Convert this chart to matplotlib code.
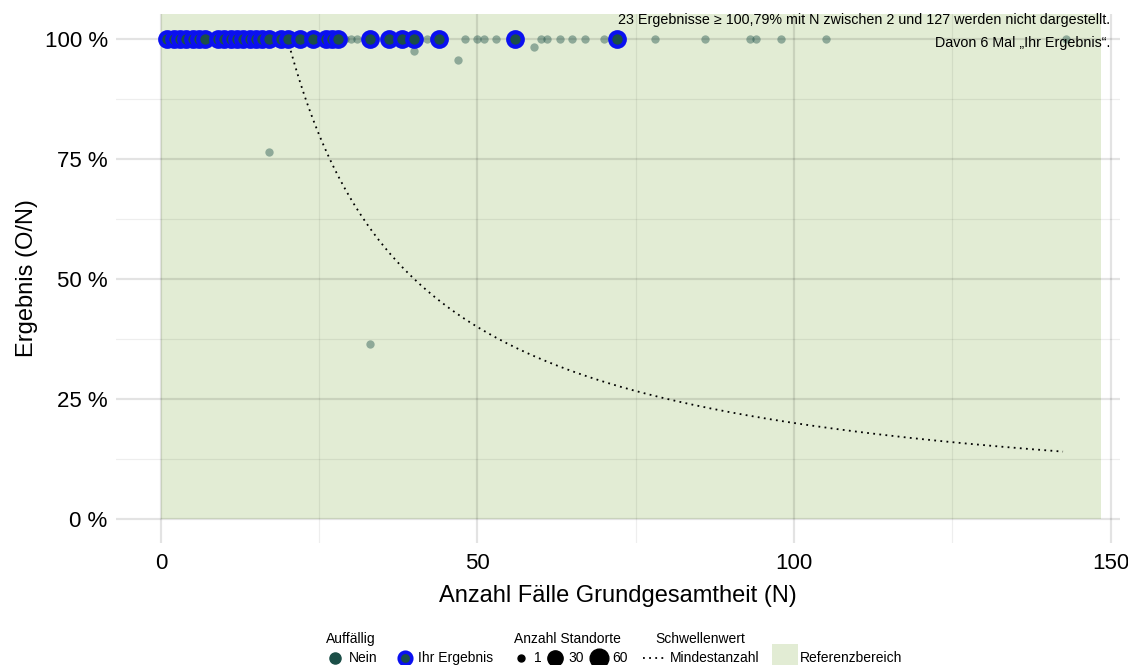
import matplotlib
matplotlib.use("Agg")
import matplotlib.pyplot as plt
from matplotlib.patches import Rectangle
import numpy as np

plt.rcParams['font.family'] = ['Liberation Sans', 'DejaVu Sans']

# ---------------- data ----------------
# "Ihr Ergebnis" points (all at 100 %)
ihr_N = [1, 2, 3, 4, 5, 6, 7, 9, 10, 11, 12, 13, 14, 15, 16, 17, 19, 20, 22, 24,
         26, 27, 28, 33, 36, 38, 40, 44, 56, 72]
ihr_val = [100] * len(ihr_N)

# other sites ("Nein")
other_N = [29, 30, 31, 42, 48, 50, 51, 53, 60, 61, 63, 65, 67, 70, 78, 86, 93,
           94, 98, 105, 143, 17, 33, 40, 47, 59]
other_val = [100, 100, 100, 100, 100, 100, 100, 100, 100, 100, 100, 100, 100, 100,
             100, 100, 100, 100, 100, 100, 100, 76.5, 36.4, 97.5, 95.7, 98.3]

# threshold (Mindestanzahl): O/N with O = 20
mindest_O = 20
curve_N_start, curve_N_end = 20, 142.5

# reference range
ref_x = (0, 148.5)
ref_y = (0, 105.5)

y_ticks = [0, 25, 50, 75, 100]
y_ticklabels = ["0 %", "25 %", "50 %", "75 %", "100 %"]
x_ticks = [0, 50, 100, 150]
x_ticklabels = ["0", "50", "100", "150"]

note_lines = ["23 Ergebnisse \u2265 100,79% mit N zwischen 2 und 127 werden nicht dargestellt.",
              "Davon 6 Mal \u201eIhr Ergebnis\u201c."]

# ---------------- colours ----------------
teal = "#1b4e47"
blue = "#0a10f0"
ref_green = "#e2ecd4"

fig = plt.figure(figsize=(11.28, 6.65), dpi=100)
ax = fig.add_axes([116 / 1128, 1 - 543 / 665, (1120 - 116) / 1128, (543 - 14) / 665])
ax.set_xlim(-7.1, 151.5)
ax.set_ylim(-5.0, 105.2)

for s in ax.spines.values():
    s.set_visible(False)

# reference rect
ax.add_patch(Rectangle((ref_x[0], ref_y[0]), ref_x[1] - ref_x[0], ref_y[1] - ref_y[0],
                       facecolor=ref_green, edgecolor='none', zorder=0))

# grid
for yv in y_ticks:
    ax.axhline(yv, color=(0, 0, 0, 0.11), lw=1.6, zorder=1)
for yv in [12.5, 37.5, 62.5, 87.5]:
    ax.axhline(yv, color=(0, 0, 0, 0.065), lw=0.9, zorder=1)
for xv in x_ticks:
    ax.axvline(xv, color=(0, 0, 0, 0.11), lw=1.6, zorder=1)
for xv in [25, 75, 125]:
    ax.axvline(xv, color=(0, 0, 0, 0.065), lw=0.9, zorder=1)

# threshold curve
cN = np.linspace(curve_N_start, curve_N_end, 400)
ax.plot(cN, 100 * mindest_O / cN, color='black', lw=1.3, ls=(0, (1, 2.4)), zorder=2)

# other points
ax.scatter(other_N, other_val, s=36, color=teal, alpha=0.42, linewidths=0, zorder=3)

# ihr ergebnis points
ax.plot(ihr_N, ihr_val, ls='none', marker='o', ms=10.5, mfc=teal, mec=blue, mew=3.0,
        zorder=4)

# note text
ax.text(150, 104.0, note_lines[0], ha='right', va='center', fontsize=10.3, zorder=5)
ax.text(150, 99.2, note_lines[1], ha='right', va='center', fontsize=10.3, zorder=5)

ax.set_yticks(y_ticks)
ax.set_yticklabels(y_ticklabels, fontsize=16)
ax.set_xticks(x_ticks)
ax.set_xticklabels(x_ticklabels, fontsize=16)
ax.tick_params(axis='y', length=0, pad=6)
ax.tick_params(axis='x', length=0, pad=7)
ax.set_xlabel("Anzahl F\u00e4lle Grundgesamtheit (N)", fontsize=17, labelpad=8)
ax.set_ylabel("Ergebnis (O/N)", fontsize=17, labelpad=5)

# ---------------- legend (pixel layout) ----------------
lg = fig.add_axes([0, 0, 1, 1], zorder=10)
lg.set_xlim(0, 1128)
lg.set_ylim(665, 0)
lg.axis('off')
lg.patch.set_alpha(0)

fs = 10
ty, iy = 639, 658
lg.text(326, ty, "Auff\u00e4llig", fontsize=fs, va='center', ha='left')
lg.plot([335], [iy], marker='o', ms=8, mfc=teal, mec=teal, ls='none')
lg.text(349, iy, "Nein", fontsize=fs, va='center', ha='left')
lg.plot([405], [iy], marker='o', ms=9, mfc=teal, mec=blue, mew=2.6, ls='none')
lg.text(418, iy, "Ihr Ergebnis", fontsize=fs, va='center', ha='left')

lg.text(514, ty, "Anzahl Standorte", fontsize=fs, va='center', ha='left')
size_labels = ["1", "30", "60"]
size_px = [5, 11, 13.5]
size_x = [521, 555, 599]
for sx, sp, sl in zip(size_x, size_px, size_labels):
    lg.plot([sx], [iy], marker='o', ms=sp, mfc='black', mec='black', ls='none')
    lg.text(sx + 13, iy, sl, fontsize=fs, va='center', ha='left')

lg.text(655, ty, "Schwellenwert", fontsize=fs, va='center', ha='left')
lg.plot([643, 667], [iy, iy], color='black', lw=1.3, ls=(0, (1, 2.4)))
lg.text(670, iy, "Mindestanzahl", fontsize=fs, va='center', ha='left')

lg.add_patch(Rectangle((772, 644), 26, 21, facecolor=ref_green, edgecolor='none'))
lg.text(800, iy, "Referenzbereich", fontsize=fs, va='center', ha='left')

fig.savefig("out.png", dpi=100)
